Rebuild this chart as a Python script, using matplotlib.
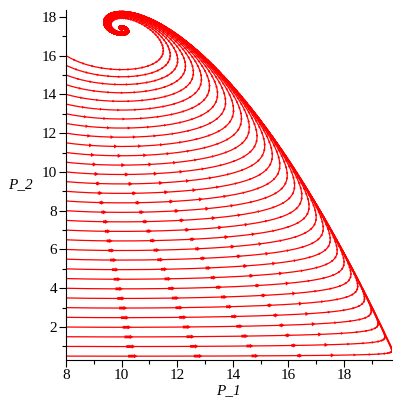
import numpy as np
import matplotlib.pyplot as plt

# predator-prey model: logistic prey P_1, saturating predation, predator P_2
# parameter values picked by eye so the curves land where the reference has them
r = 1.0        # prey growth rate
K = 20.0       # prey carrying capacity
h = 0.2        # handling time
A = 11.6       # r / attack rate
e = 0.12       # predator rate
P1_eq = 10.0   # prey level where predator stays constant

# initial conditions of the trajectories
P1_start = 8.0
P2_start = [0.5, 1.0, 1.5, 2.0, 2.5, 3.0, 3.5, 4.0, 4.5, 5.0, 5.5, 6.0, 6.5, 7.0,
            7.5, 8.0, 8.5, 9.0, 9.5, 10.0, 10.5, 11.0, 11.5, 12.0, 12.5, 13.0,
            13.5, 14.0, 14.5, 15.0, 15.5, 16.0]

t_end = 200.0
dt = 0.01
arrow_dt = 0.5      # arrows every half time unit
arrow_scale = 0.07  # arrow length (px) per speed (px / time)


def rhs(p1, p2):
    d1 = r * p1 * (1 - p1 / K) - (r / A) * p1 * p2 / (1 + h * p1)
    d2 = e * p2 * (p1 / (1 + h * p1) - P1_eq / (1 + h * P1_eq))
    return d1, d2


# RK4 on all trajectories at once
p1 = np.full(len(P2_start), P1_start)
p2 = np.array(P2_start, dtype=float)
n_steps = int(t_end / dt)
path1 = [p1.copy()]
path2 = [p2.copy()]
for i in range(n_steps):
    k1 = rhs(p1, p2)
    k2 = rhs(p1 + dt / 2 * k1[0], p2 + dt / 2 * k1[1])
    k3 = rhs(p1 + dt / 2 * k2[0], p2 + dt / 2 * k2[1])
    k4 = rhs(p1 + dt * k3[0], p2 + dt * k3[1])
    p1 = p1 + dt / 6 * (k1[0] + 2 * k2[0] + 2 * k3[0] + k4[0])
    p2 = p2 + dt / 6 * (k1[1] + 2 * k2[1] + 2 * k3[1] + k4[1])
    path1.append(p1.copy())
    path2.append(p2.copy())
path1 = np.array(path1)
path2 = np.array(path2)

fig = plt.figure(figsize=(4, 4), dpi=100)
ax_box = [0.165, 0.10, 0.815, 0.875]
ax = fig.add_axes(ax_box)

for j in range(len(P2_start)):
    ax.plot(path1[:, j], path2[:, j], color="red", lw=0.9)

xlim = (8, path1.max())
ylim = (0.3, 18.35)
sx = ax_box[2] * 400 / (xlim[1] - xlim[0])
sy = ax_box[3] * 400 / (ylim[1] - ylim[0])

# arrows at equal time steps, length follows the speed
step = int(round(arrow_dt / dt))
ax_x = path1[step::step, :].ravel()
ax_y = path2[step::step, :].ravel()
u, v = rhs(ax_x, ax_y)
ax.quiver(ax_x, ax_y, u * sx * arrow_scale, v * sy * arrow_scale, angles="uv",
          scale_units="dots", scale=1, color="red", units="dots", width=2.8,
          headwidth=1.6, headlength=1.3, headaxislength=1.2, minlength=0.8,
          pivot="middle")

ax.set_xlim(xlim)
ax.set_ylim(ylim)
for s in ["top", "right"]:
    ax.spines[s].set_visible(False)
ax.set_xticks([8, 10, 12, 14, 16, 18])
ax.set_xticks([9, 11, 13, 15, 17, 19], minor=True)
ax.set_yticks([2, 4, 6, 8, 10, 12, 14, 16, 18])
ax.set_yticks([1, 3, 5, 7, 9, 11, 13, 15, 17], minor=True)
ax.tick_params(which="major", length=5, width=0.8, pad=1.5)
ax.tick_params(which="minor", length=3, width=0.8)
for lab in ax.get_xticklabels() + ax.get_yticklabels():
    lab.set_fontfamily("Liberation Serif")
    lab.set_fontsize(11)

ax.set_xlabel("P_1", fontfamily="Liberation Serif", fontstyle="italic", fontsize=11)
ax.xaxis.set_label_coords(0.497, -0.068)
ax.set_ylabel("P_2", fontfamily="Liberation Serif", fontstyle="italic", fontsize=11,
              rotation=0, ha="center", va="center")
ax.yaxis.set_label_coords(-0.141, 0.5)

fig.savefig("out.png", dpi=100)
